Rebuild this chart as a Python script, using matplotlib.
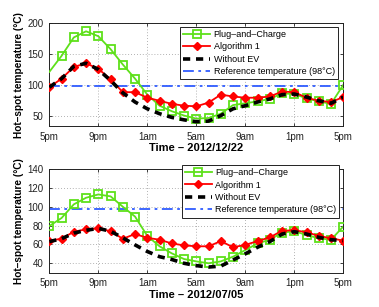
import matplotlib
matplotlib.use("Agg")
import matplotlib.pyplot as plt
import numpy as np

hours = list(range(25))
tick_pos = [0, 4, 8, 12, 16, 20, 24]
tick_labels = ["5pm", "9pm", "1am", "5am", "9am", "1pm", "5pm"]

# 2012/12/22
pc_dec = [121, 147, 177, 187, 179, 158, 133, 110, 84, 66, 57, 50, 45, 46, 53, 67, 70, 73, 77, 86, 85, 78, 73, 69, 100]
alg_dec = [96, 110, 129, 135, 126, 109, 88, 88, 79, 74, 69, 66, 65, 71, 84, 81, 79, 79, 81, 89, 88, 79, 74, 72, 80]
noev_dec = [96, 110, 130, 135, 125, 107, 87, 72, 61, 53, 47, 43, 40, 41, 50, 61, 66, 72, 77, 84, 85, 80, 74, 70, 80]

# 2012/07/05
pc_jul = [79.5, 88, 102.5, 109.5, 113, 111, 100, 89.5, 69, 58, 50.5, 44.5, 42, 40, 42, 47, 54, 61, 65, 72.5, 74, 70, 66.5, 65, 79]
alg_jul = [64, 66, 73.5, 76, 77, 74, 66, 71, 67, 65, 61, 59, 58, 58, 63.5, 57, 59.5, 63.5, 67.5, 74.5, 75, 73, 69, 66.5, 64]
noev_jul = [63, 66, 72, 75, 77, 74, 67, 59.5, 52.5, 47, 44, 40, 37.5, 36, 37, 43.5, 50, 57, 63, 71, 73.5, 71, 67.5, 65, 64]

ref_temp = 98
labels = ["Plug\u2013and\u2013Charge", "Algorithm 1", "Without EV", "Reference temperature (98\u00b0C)"]

plt.rcParams['font.family'] = ['Liberation Sans', 'DejaVu Sans']

GREEN = '#5ee01a'
RED = '#ff0000'
BLUE = '#2f5cff'

fig = plt.figure(figsize=(3.79, 3.07), dpi=100)
W, H = 379, 307

def make_ax(top_px, bot_px):
    return fig.add_axes([49.3 / W, 1 - bot_px / H, (343.3 - 49.3) / W, (bot_px - top_px) / H])

ax1 = make_ax(23.3, 126.0)
ax2 = make_ax(169.0, 272.7)

def draw(ax, pc, alg, noev, ylim, yticks, xlabel, leg_anchor, pc_markevery):
    ax.plot(hours, pc, color=GREEN, lw=1.3, marker='s', ms=6, mfc='none', mec=GREEN, mew=1.3,
            markevery=pc_markevery, label=labels[0], zorder=3)
    ax.plot(hours, alg, color=RED, lw=1.3, marker='D', ms=4.5, mfc=RED, mec=RED, mew=1.0,
            label=labels[1], zorder=4)
    ax.plot(hours, noev, color='black', lw=2.6, ls=(0, (2.0, 1.6)), label=labels[2], zorder=5)
    ax.axhline(ref_temp, color=BLUE, lw=1.3, ls=(0, (6, 2.5, 1.5, 2.5)), label=labels[3], zorder=2)
    ax.set_xlim(0, 24)
    ax.set_ylim(*ylim)
    ax.set_xticks(tick_pos)
    ax.set_xticklabels(tick_labels)
    ax.set_yticks(yticks)
    ax.tick_params(direction='in', top=True, right=True, labelsize=7, length=2.5, width=0.6, pad=4,
                   colors='#222222')
    ax.grid(True, ls=(0, (1, 2.5)), color='#999999', lw=0.6)
    for s in ax.spines.values():
        s.set_linewidth(0.7)
        s.set_color('#222222')
    ax.set_xlabel(xlabel, fontsize=8, fontweight='bold', labelpad=1)
    ax.set_ylabel("Hot\u2013spot temperature (\u00b0C)", fontsize=7.3, fontweight='bold')
    ax.yaxis.set_label_coords(-0.085, 0.5)
    leg = ax.legend(loc='upper left', bbox_to_anchor=leg_anchor, fontsize=6.5, handlelength=3.0,
                    handletextpad=0.35, borderpad=0.35, labelspacing=0.38, fancybox=False,
                    framealpha=1, edgecolor='#222222', borderaxespad=0)
    leg.get_frame().set_linewidth(0.7)
    leg.set_zorder(10)

draw(ax1, pc_dec, alg_dec, noev_dec, (33, 200), [50, 100, 150, 200], "Time \u2013 2012/12/22",
     (0.445, 0.967), list(range(1, 25)))
draw(ax2, pc_jul, alg_jul, noev_jul, (30, 140), [40, 60, 80, 100, 120, 140], "Time \u2013 2012/07/05",
     (0.450, 1.039), None)

fig.savefig("out.png", dpi=100)
